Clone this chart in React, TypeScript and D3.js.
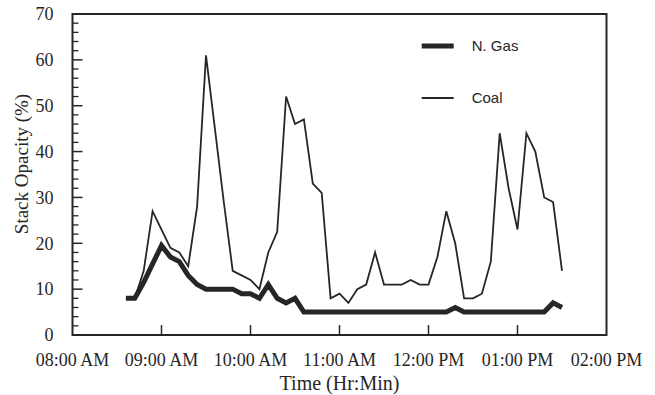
import * as d3 from 'd3';
import { useEffect, useRef } from 'react';

// readings every 6 minutes, 08:36 to 13:30
const times = [
  '08:36', '08:42', '08:48', '08:54',
  '09:00', '09:06', '09:12', '09:18', '09:24', '09:30', '09:36', '09:42', '09:48', '09:54',
  '10:00', '10:06', '10:12', '10:18', '10:24', '10:30', '10:36', '10:42', '10:48', '10:54',
  '11:00', '11:06', '11:12', '11:18', '11:24', '11:30', '11:36', '11:42', '11:48', '11:54',
  '12:00', '12:06', '12:12', '12:18', '12:24', '12:30', '12:36', '12:42', '12:48', '12:54',
  '13:00', '13:06', '13:12', '13:18', '13:24', '13:30',
];

const gasValues = [
  8, 8, 11.5, 15.5,
  19.5, 17, 16, 13, 11, 10, 10, 10, 10, 9,
  9, 8, 11, 8, 7, 8, 5, 5, 5, 5,
  5, 5, 5, 5, 5, 5, 5, 5, 5, 5,
  5, 5, 5, 6, 5, 5, 5, 5, 5, 5,
  5, 5, 5, 5, 7, 6,
];

const coalValues = [
  8, 8, 14, 27,
  23, 19, 18, 15, 28, 61, 45, 29, 14, 13,
  12, 10, 18, 22.5, 52, 46, 47, 33, 31, 8,
  9, 7, 10, 11, 18, 11, 11, 11, 12, 11,
  11, 17, 27, 20, 8, 8, 9, 16, 44, 32,
  23, 44, 40, 30, 29, 14,
];

const yTicks = [0, 10, 20, 30, 40, 50, 60, 70];
const xTickHours = ['08:00', '09:00', '10:00', '11:00', '12:00', '13:00', '14:00'];

const series = [
  { name: 'N. Gas', values: gasValues, width: 5 },
  { name: 'Coal', values: coalValues, width: 1.8 },
];

const App = () => {
  const ref = useRef<SVGSVGElement>(null);

  useEffect(() => {
    const width = 655;
    const height = 395;
    const margin = { top: 14, right: 48.5, bottom: 60, left: 72.5 };
    const chartWidth = width - margin.left - margin.right;
    const chartHeight = height - margin.top - margin.bottom;
    const ink = '#262626';
    const serif = '"Liberation Serif", "Times New Roman", serif';
    const sans = '"Liberation Sans", Arial, sans-serif';

    const parse = d3.timeParse('%H:%M');
    const svg = d3.select(ref.current);
    svg.selectAll('*').remove();

    svg.append('rect').attr('width', width).attr('height', height).attr('fill', '#fff');

    const chart = svg.append('g').attr('transform', `translate(${margin.left},${margin.top})`);

    const x = d3.scaleTime()
      .domain([parse('08:00')!, parse('14:00')!])
      .range([0, chartWidth]);
    const y = d3.scaleLinear().domain([0, 70]).range([chartHeight, 0]);

    // Y ticks, pointing inward
    const minor = d3.range(0, 71, 2).filter(v => v % 10 !== 0);
    chart.append('g')
      .selectAll('line.minor')
      .data(minor)
      .enter()
      .append('line')
      .attr('x1', 0).attr('x2', 6)
      .attr('y1', d => y(d)).attr('y2', d => y(d))
      .attr('stroke', ink).attr('stroke-width', 1.3);
    chart.append('g')
      .selectAll('line.major')
      .data(yTicks)
      .enter()
      .append('line')
      .attr('x1', 0).attr('x2', 10)
      .attr('y1', d => y(d)).attr('y2', d => y(d))
      .attr('stroke', ink).attr('stroke-width', 1.5);
    chart.append('g')
      .selectAll('text')
      .data(yTicks)
      .enter()
      .append('text')
      .attr('x', -19)
      .attr('y', d => y(d))
      .attr('dy', '0.35em')
      .attr('text-anchor', 'end')
      .attr('font-family', serif)
      .attr('font-size', 18)
      .attr('fill', ink)
      .text(d => d);

    // X ticks
    const xTicks = xTickHours.map(t => parse(t)!);
    const fmt = d3.timeFormat('%I:%M %p');
    chart.append('g')
      .selectAll('line')
      .data(xTicks.slice(1, -1))
      .enter()
      .append('line')
      .attr('x1', d => x(d)).attr('x2', d => x(d))
      .attr('y1', chartHeight).attr('y2', chartHeight - 10)
      .attr('stroke', ink).attr('stroke-width', 1.5);
    chart.append('g')
      .selectAll('text')
      .data(xTicks)
      .enter()
      .append('text')
      .attr('x', d => x(d))
      .attr('y', chartHeight + 31)
      .attr('text-anchor', 'middle')
      .attr('font-family', serif)
      .attr('font-size', 18)
      .attr('fill', ink)
      .text(d => fmt(d));

    // Lines (coal underneath, gas on top)
    const line = d3.line<number>()
      .x((_, i) => x(parse(times[i])!))
      .y(d => y(d));

    series.slice().reverse().forEach(s => {
      chart.append('path')
        .datum(s.values)
        .attr('fill', 'none')
        .attr('stroke', ink)
        .attr('stroke-width', s.width)
        .attr('stroke-linejoin', 'miter')
        .attr('d', line);
    });

    // Frame
    chart.append('rect')
      .attr('width', chartWidth)
      .attr('height', chartHeight)
      .attr('fill', 'none')
      .attr('stroke', ink)
      .attr('stroke-width', 2);

    // Legend
    const legend = chart.append('g').attr('transform', `translate(${421.7 - margin.left},${46 - margin.top})`);
    series.forEach((s, i) => {
      legend.append('line')
        .attr('x1', 0).attr('x2', 32)
        .attr('y1', i * 52).attr('y2', i * 52)
        .attr('stroke', ink)
        .attr('stroke-width', s.width);
      legend.append('text')
        .attr('x', 50)
        .attr('y', i * 52)
        .attr('dy', '0.36em')
        .attr('font-family', sans)
        .attr('font-size', 15)
        .attr('fill', ink)
        .text(s.name);
    });

    // Axis titles
    svg.append('text')
      .attr('x', margin.left + chartWidth / 2)
      .attr('y', 390)
      .attr('text-anchor', 'middle')
      .attr('font-family', serif)
      .attr('font-size', 20)
      .attr('fill', ink)
      .text('Time (Hr:Min)');
    svg.append('text')
      .attr('transform', 'translate(28,164) rotate(-90)')
      .attr('text-anchor', 'middle')
      .attr('font-family', serif)
      .attr('font-size', 19)
      .attr('fill', ink)
      .text('Stack Opacity (%)');
  }, []);

  return (
    <svg
      ref={ref}
      width={655}
      height={395}
      style={{ position: 'absolute', left: 0, top: 0 }}
    />
  );
};

export default App;
